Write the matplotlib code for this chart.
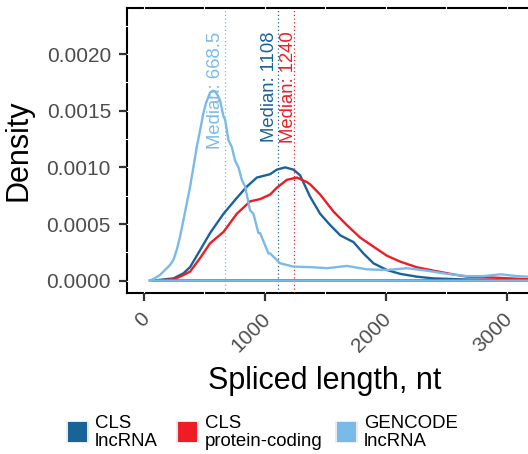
import numpy as np
import matplotlib
matplotlib.use("Agg")
import matplotlib.pyplot as plt
from matplotlib.patches import Rectangle
from matplotlib.transforms import ScaledTranslation

plt.rcParams["font.family"] = ["Liberation Sans", "DejaVu Sans"]

# ---- data -------------------------------------------------------------
series_names = ["CLS\nlncRNA", "CLS\nprotein-coding", "GENCODE\nlncRNA"]
series_colors = ["#1A6399", "#EE1C25", "#7ABAE9"]

cls_lnc_x = [50, 72, 243, 326, 381, 464, 546, 657, 767, 850, 933, 1043, 1098,
             1167, 1236, 1291, 1374, 1457, 1540, 1623, 1733, 1815, 1898, 2009,
             2119, 2257, 2395, 2671, 2950, 3179, 3400]
cls_lnc_y = [0.0, 0.0, 0.00002, 0.000065, 0.00012, 0.00027, 0.00042, 0.00059,
             0.00073, 0.00083, 0.00091, 0.00094, 0.00098, 0.001, 0.00098,
             0.00093, 0.00074, 0.00059, 0.00049, 0.0004, 0.00034, 0.00024,
             0.000153, 0.000094, 0.00006, 0.000035, 0.00002, 0.00001,
             0.000007, 0.000005, 0.000004]

cls_pc_x = [50, 72, 243, 326, 381, 464, 546, 657, 767, 877, 960, 1043, 1098,
            1181, 1264, 1347, 1374, 1457, 1567, 1678, 1788, 1898, 2009, 2119,
            2257, 2395, 2533, 2671, 2892, 3179, 3400]
cls_pc_y = [0.0, 0.0, 0.00001, 0.00005, 0.00008, 0.0002, 0.00033, 0.00043,
            0.00059, 0.0007, 0.00072, 0.00076, 0.00082, 0.00089, 0.00091,
            0.00087, 0.00085, 0.00076, 0.00061, 0.00049, 0.00038, 0.0003,
            0.00022, 0.000168, 0.000118, 0.000088, 0.00006, 0.000035,
            0.000027, 0.000012, 0.00001]

gencode_x = [50, 72, 132, 215, 243, 270, 298, 326, 353, 381, 408, 436, 464,
             491, 513, 546, 569, 588, 607, 629, 657, 671, 698, 726, 753, 781,
             809, 836, 877, 905, 946, 960, 1029, 1043, 1126, 1236, 1402, 1512,
             1678, 1843, 2009, 2175, 2340, 2506, 2671, 2809, 2947, 3085, 3179,
             3400]
gencode_y = [0.000003, 0.000012, 0.00005, 0.000139, 0.000183, 0.00027,
             0.00039, 0.000536, 0.00068, 0.00083, 0.001, 0.00118, 0.00133,
             0.00148, 0.00157, 0.00166, 0.001677, 0.00167, 0.00164, 0.00159,
             0.00145, 0.00142, 0.00124, 0.00118, 0.00106, 0.001, 0.00089,
             0.00083, 0.00062, 0.00059, 0.00042, 0.00042, 0.00024, 0.00024,
             0.000153, 0.000124, 0.000118, 0.00011, 0.00013, 0.0001, 0.000094,
             0.00011, 0.000088, 0.00006, 0.00004, 0.00004, 0.000056, 0.00004,
             0.000035, 0.00003]

medians = [1108, 1240, 668.5]
median_labels = ["Median: 1108", "Median: 1240", "Median: 668.5"]

x_ticks = [0, 1000, 2000, 3000]
y_ticks = [0.0, 0.0005, 0.0010, 0.0015, 0.0020]

curves = [(cls_lnc_x, cls_lnc_y), (cls_pc_x, cls_pc_y), (gencode_x, gencode_y)]

# ---- figure layout (pixels) ------------------------------------------
W, H, DPI = 528, 454, 100
fig = plt.figure(figsize=(W / DPI, H / DPI), dpi=DPI)
ax_left, ax_right, ax_top, ax_bottom = 127, 635, 8, 293
ax = fig.add_axes([ax_left / W, 1 - ax_bottom / H,
                   (ax_right - ax_left) / W, (ax_bottom - ax_top) / H])
ax.set_xlim(-141, 4061)
ax.set_ylim(-0.000109, 0.002407)

for sp in ax.spines.values():
    sp.set_linewidth(1.5)
    sp.set_color("black")
    sp.set_zorder(1)

# white grid lines that slice through the panel border
for gx in np.arange(0, 4001, 500):
    ax.axvline(gx, color="white", lw=0.8, zorder=1.2, ymin=-0.006, ymax=1.006,
               clip_on=False)
for gy in np.arange(0, 0.00226, 0.00025):
    ax.axhline(gy, color="white", lw=0.8, zorder=1.2, xmin=-0.004, xmax=1.0,
               clip_on=False)

# density outlines, closed along the baseline
for (xs, ys), col in zip(curves, series_colors):
    px = list(xs) + [xs[-1], xs[0], xs[0]]
    py = list(ys) + [0.0, 0.0, ys[0]]
    ax.plot(px, py, color=col, lw=1.7, zorder=3, solid_joinstyle="round")

# median markers
label_dx = [-8.5, -5.0, -9.0]
for med, lab, col, dx in zip(medians, median_labels, series_colors, label_dx):
    ax.axvline(med, color=col, lw=0.9, ls=(0, (1, 2)), zorder=2.5)
    off = ScaledTranslation(dx / DPI, 0, fig.dpi_scale_trans)
    ax.text(med, 0.0022, lab, rotation=90, ha="center", va="top", color=col,
            fontsize=13.3, transform=ax.transData + off, zorder=4)

# ticks
ax.set_xticks(x_ticks)
ax.set_xticklabels([str(t) for t in x_ticks])
ax.set_yticks(y_ticks)
ax.set_yticklabels([f"{t:.4f}" for t in y_ticks])
ax.tick_params(axis="both", length=5.8, width=1.6, color="#333333",
               labelcolor="#4D4D4D", labelsize=15, direction="out")
ax.tick_params(axis="y", pad=5.8)
ax.tick_params(axis="x", pad=6.0)
xlab_shift = ScaledTranslation(-4 / DPI, 0, fig.dpi_scale_trans)
for lab in ax.get_xticklabels():
    lab.set_rotation(45)
    lab.set_rotation_mode("anchor")
    lab.set_ha("right")
    lab.set_va("top")
    lab.set_transform(lab.get_transform() + xlab_shift)

# axis titles
fig.text(18 / W, 1 - 150.5 / H, "Density", rotation=90, ha="center",
         va="center", fontsize=22, color="black")
fig.text(325 / W, 1 - 381 / H, "Spliced length, nt", ha="center",
         va="center", fontsize=22, color="black")

# legend
key_x = [67.7, 177.7, 336.7]
key_top, key_size = 422.3, 19.5
for kx, name, col in zip(key_x, series_names, series_colors):
    fig.add_artist(Rectangle(((kx - 1.5) / W, 1 - (key_top + key_size + 1.5) / H),
                             (key_size + 3) / W, (key_size + 3) / H,
                             transform=fig.transFigure, facecolor="#EBEBEB",
                             edgecolor="none"))
    fig.add_artist(Rectangle((kx / W, 1 - (key_top + key_size) / H),
                             key_size / W, key_size / H,
                             transform=fig.transFigure, facecolor=col,
                             edgecolor="none"))
    fig.text((kx + 27.5) / W, 1 - (key_top + key_size / 2) / H, name,
             ha="left", va="center", fontsize=13.4, color="black",
             linespacing=1.08)

fig.savefig("out.png", dpi=DPI)
